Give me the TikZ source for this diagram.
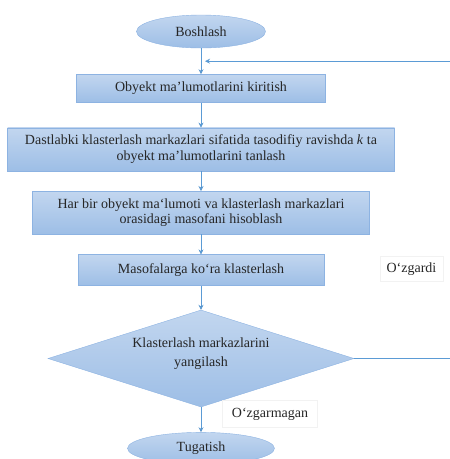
\documentclass[tikz,border=0pt]{standalone}
\usepackage{fontspec}
\setmainfont{Liberation Serif}
\usetikzlibrary{positioning, arrows.meta, shapes.geometric, calc}
\definecolor{boxTop}{HTML}{C2D6EF}
\definecolor{boxBottom}{HTML}{9DBEE6}
\definecolor{boxEdge}{HTML}{8DB3E2}
\definecolor{flowLine}{HTML}{5B9BD5}
\definecolor{labelEdge}{HTML}{F2F2F2}

\begin{document}
\begin{tikzpicture}[
    x=1pt, y=1pt,
    ->,>={Stealth[length=5pt,width=5pt]},
    every node/.style={font=\fontsize{14}{15.5}\selectfont, text=black!85, inner sep=0pt},
    terminal/.style={ellipse, draw=boxEdge, top color=boxTop, bottom color=boxBottom, minimum height=32pt},
    process/.style={rectangle, draw=boxEdge, top color=boxTop, bottom color=boxBottom, align=center},
    decision/.style={diamond, aspect=3.15, draw=boxEdge, top color=boxTop, bottom color=boxBottom,
        minimum width=306pt, minimum height=97pt},
    answer/.style={rectangle, draw=labelEdge, fill=white},
    flow/.style={draw=flowLine, thick}
]
    \useasboundingbox (0,0) rectangle (450,-459);

    % Start and processing steps
    \node[terminal, minimum width=129pt, minimum height=33pt] (start) at (201,-31.5) {Boshlash};
    \node[process, minimum width=249pt, minimum height=28pt, below=26pt of start] (input) {Obyekt ma’lumotlarini kiritish};
    \node[process, minimum width=387pt, minimum height=43pt, below=25pt of input] (choose)
        {Dastlabki klasterlash markazlari sifatida tasodifiy ravishda \textit{k} ta\\obyekt ma’lumotlarini tanlash};
    \node[process, minimum width=337pt, minimum height=43pt, below=20pt of choose] (distance)
        {Har bir obyekt ma‘lumoti va klasterlash markazlari\\orasidagi masofani hisoblash};
    \node[process, minimum width=246pt, minimum height=31pt, below=20pt of distance] (cluster) {Masofalarga ko‘ra klasterlash};

    % Decision and end
    \node[decision, below=24pt of cluster] (update) {};
    \node[align=center, font=\fontsize{14}{18.5}\selectfont] (updateText) at ([yshift=5pt]update.center)
        {Klasterlash markazlarini\\yangilash};
    \node[terminal, minimum width=147pt, below=25pt of update] (finish) {Tugatish};

    % Branch labels
    \node[answer, minimum width=63pt, minimum height=25pt] (changed) at (411.5,-269) {O‘zgardi};
    \node[answer, minimum width=95pt, minimum height=27pt] (same) at (270,-414) {O‘zgarmagan};

    % Main flow
    \path[flow] (start) edge (input)
          (input) edge (choose)
          (choose) edge (distance)
          (distance) edge (cluster)
          (cluster) edge (update)
          (update) edge (finish);

    % Loop back when centres change
    \coordinate (loopR) at (456,0 |- update.east);
    \coordinate (loopT) at ($(start.south)!0.5!(input.north)$);
    \draw[flow] (update.east) -- (loopR) -- (456,0 |- loopT) -- ([xshift=4pt]loopT);
\end{tikzpicture}
\end{document}
